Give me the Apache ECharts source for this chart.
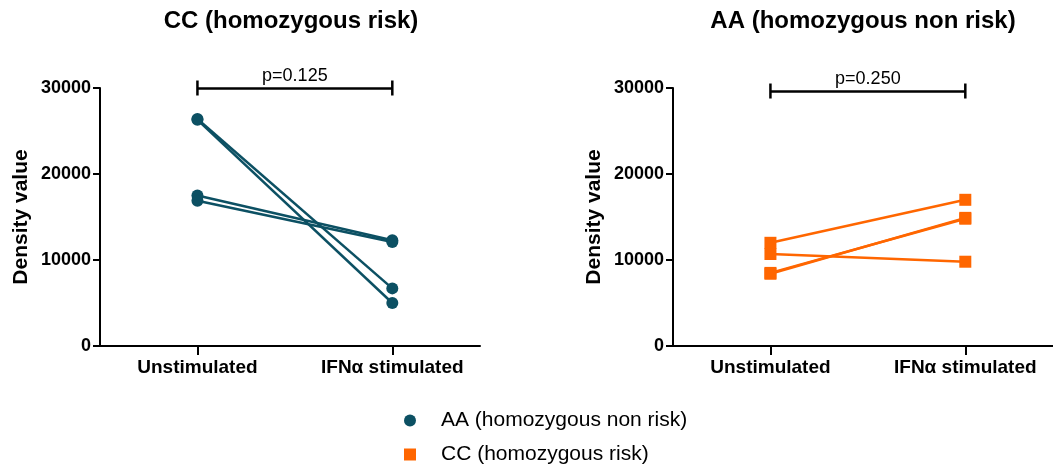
<!DOCTYPE html>
<html>
<head>
<meta charset="utf-8">
<script src="https://cdn.jsdelivr.net/npm/echarts@6/dist/echarts.min.js"></script>
<style>
  html, body { margin: 0; padding: 0; background: #fff; }
  #chart { width: 1053px; height: 470px; }
</style>
</head>
<body>
<div id="chart"></div>
<script>
var categories = ['Unstimulated', 'IFNα stimulated'];
var titles = ['CC (homozygous risk)', 'AA (homozygous non risk)'];
var groupNames = ['AA (homozygous non risk)', 'CC (homozygous risk)'];
var yTicks = [0, 10000, 20000, 30000];

// paired values, one entry per subject
var blueUnstim = [26400, 26300, 17500, 16900];
var blueIfn = [6700, 5000, 12300, 12100];
var orangeUnstim = [12000, 10700, 8400, 8500];
var orangeIfn = [17000, 9800, 14900, 14800];

var pValues = ['p=0.125', 'p=0.250'];
var bracketY = [30000, 29650];

var FONT = '"Liberation Sans", Arial, sans-serif';
var BLUE = '#0c5063';
var ORANGE = '#ff6600';

var chartDom = document.getElementById('chart');
var chart = echarts.init(chartDom);

function makeAxes(idx) {
    var x = {
        type: 'value',
        gridIndex: idx,
        min: -0.5,
        max: 1.45,
        splitLine: { show: false },
        axisLine: { onZero: false, lineStyle: { color: '#000', width: 2 } },
        axisTick: { customValues: [0, 1], length: 9, lineStyle: { color: '#000', width: 2 } },
        axisLabel: {
            customValues: [0, 1],
            margin: 12,
            color: '#000',
            fontFamily: FONT,
            fontWeight: 'bold',
            fontSize: 19,
            formatter: function (v) { return categories[Math.round(v)]; }
        }
    };
    var y = {
        type: 'value',
        gridIndex: idx,
        min: 0,
        max: yTicks[yTicks.length - 1],
        interval: 10000,
        name: 'Density value',
        nameLocation: 'middle',
        nameGap: 68,
        nameTextStyle: { color: '#000', fontFamily: FONT, fontWeight: 'bold', fontSize: 21 },
        splitLine: { show: false },
        axisLine: { show: true, onZero: false, lineStyle: { color: '#000', width: 2 } },
        axisTick: { show: true, length: 7, lineStyle: { color: '#000', width: 2 } },
        axisLabel: {
            margin: 9, color: '#000', fontFamily: FONT, fontWeight: 'bold', fontSize: 18,
            formatter: function (v) { return String(v); }
        }
    };
    return [x, y];
}

function bracket(i) {
    var b = bracketY[i];
    return {
        silent: true,
        symbol: ['rect', 'rect'],
        symbolSize: [15, 2.5],
        lineStyle: { color: '#000', width: 2.5, type: 'solid' },
        itemStyle: { color: '#000' },
        label: {
            show: true, position: 'insideMiddleTop', distance: 3, formatter: pValues[i],
            color: '#000', fontFamily: FONT, fontSize: 18
        },
        data: [
            [{ coord: [0, b] }, { coord: [1, b] }]
        ]
    };
}

var series = [];
blueUnstim.forEach(function (v, k) {
    series.push({
        name: groupNames[0],
        type: 'line',
        xAxisIndex: 0,
        yAxisIndex: 0,
        symbol: 'circle',
        symbolSize: 12,
        color: BLUE,
        lineStyle: { width: 2.5, color: BLUE },
        data: [[0, v], [1, blueIfn[k]]],
        markLine: k === 0 ? bracket(0) : undefined
    });
});
orangeUnstim.forEach(function (v, k) {
    series.push({
        name: groupNames[1],
        type: 'line',
        xAxisIndex: 1,
        yAxisIndex: 1,
        symbol: 'rect',
        symbolSize: 12,
        color: ORANGE,
        lineStyle: { width: 2.5, color: ORANGE },
        data: [[0, v], [1, orangeIfn[k]]],
        markLine: k === 0 ? bracket(1) : undefined
    });
});

var ax0 = makeAxes(0), ax1 = makeAxes(1);

var option = {
    animation: false,
    backgroundColor: '#fff',
    title: [
        { text: titles[0], left: 286, top: 4, textAlign: 'center',
          textStyle: { fontFamily: FONT, fontWeight: 'bold', fontSize: 24, color: '#000' } },
        { text: titles[1], left: 858, top: 4, textAlign: 'center',
          textStyle: { fontFamily: FONT, fontWeight: 'bold', fontSize: 24, color: '#000' } }
    ],
    legend: {
        orient: 'vertical',
        left: 399,
        top: 405,
        itemWidth: 12,
        itemHeight: 12,
        itemGap: 13,
        data: [
            { name: groupNames[0], icon: 'circle' },
            { name: groupNames[1], icon: 'rect' }
        ],
        textStyle: { color: '#000', fontFamily: FONT, fontSize: 21, padding: [0, 0, 0, 20] }
    },
    grid: [
        { left: 100, top: 88, width: 380, height: 258 },
        { left: 673, top: 88, width: 380, height: 258 }
    ],
    xAxis: [ax0[0], ax1[0]],
    yAxis: [ax0[1], ax1[1]],
    series: series
};

chart.setOption(option);
</script>
</body>
</html>
